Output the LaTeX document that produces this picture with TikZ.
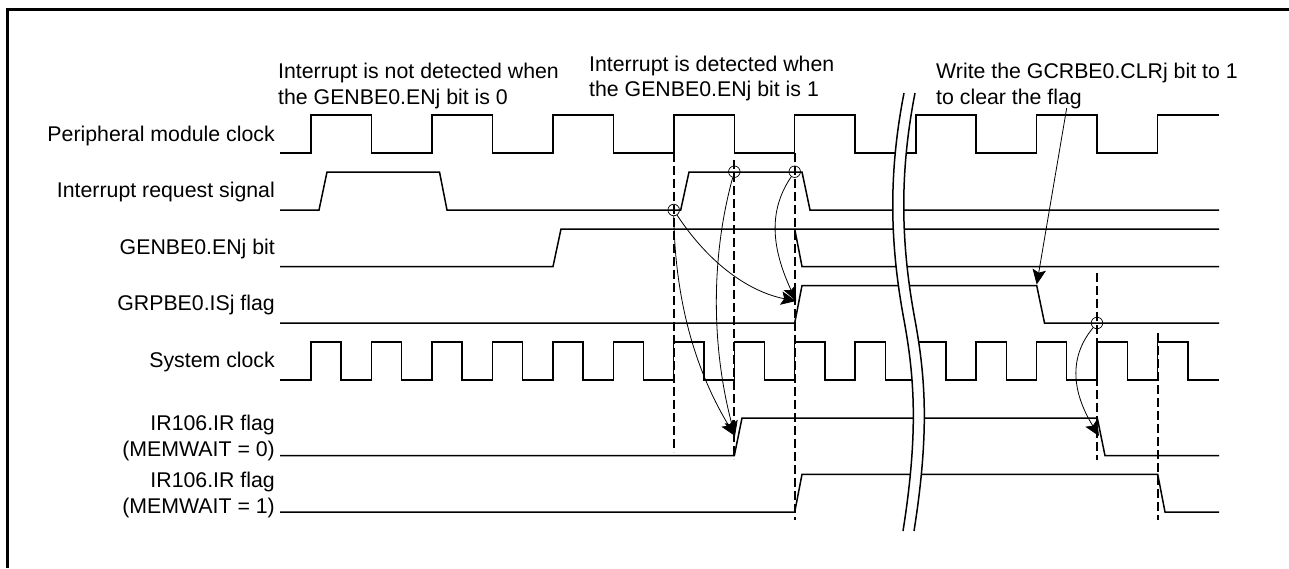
\documentclass[tikz,border=0pt]{standalone}
\usepackage{fontspec}
\setmainfont{Liberation Sans}
\usetikzlibrary{arrows.meta}
\tikzset{
  x=1pt,y=-1pt,
  wave/.style={line width=1.5pt,line join=miter},
  guide/.style={line width=2pt,dash pattern=on 9pt off 4pt},
  breakline/.style={line width=1.5pt},
  lbl/.style={font=\fontsize{21.3}{25.5}\selectfont,inner sep=0pt,align=right,anchor=base east},
  note/.style={font=\fontsize{21.3}{25.5}\selectfont,inner sep=0pt,align=left,anchor=base west},
  dot/.style={circle,draw,line width=0.7pt,minimum size=11.5pt,inner sep=0pt},
  cause/.style={line width=0.8pt,-{Stealth[length=15pt,width=13.5pt,inset=3pt]}},
}
\begin{document}
\begin{tikzpicture}
\useasboundingbox (0,0) rectangle (1289,568);
\draw[line width=3pt] (7.5,568) -- (7.5,9.5) -- (1289,9.5);

% labels
\node[lbl] (l1) at (275,141) {Peripheral module clock};
\node[lbl] (l2) at (275,197) {Interrupt request signal};
\node[lbl] (l3) at (275,254) {GENBE0.ENj bit};
\node[lbl] (l4) at (275,310) {GRPBE0.ISj flag};
\node[lbl] (l5) at (275,367) {System clock};
\node[lbl] (l6) at (275,456) {IR106.IR flag\\(MEMWAIT = 0)};
\node[lbl] (l7) at (275,513) {IR106.IR flag\\(MEMWAIT = 1)};
\node[note] (n1) at (278,104) {Interrupt is not detected when\\the GENBE0.ENj bit is 0};
\node[note] (n2) at (589,96.5) {Interrupt is detected when\\the GENBE0.ENj bit is 1};
\node[note] (n3) at (936,104) {Write the GCRBE0.CLRj bit to 1\\to clear the flag};

% guides
\draw[guide] (673.7,153) -- (673.7,452);
\draw[guide] (734.3,160) -- (734.3,459);
\draw[guide] (794.7,153) -- (794.7,520);
\draw[guide] (1097,273) -- (1097,460);
\draw[guide] (1157.7,333) -- (1157.7,520);

% peripheral clock
\draw[wave] (280,153) -- (311,153) -- (311,115) -- (371.5,115) -- (371.5,153) -- (432,153) -- (432,115) -- (492.5,115) -- (492.5,153) -- (553,153) -- (553,115) -- (613.5,115) -- (613.5,153) -- (674,153) -- (674,115) -- (734.3,115) -- (734.3,153) -- (794.7,153) -- (794.7,115) -- (855,115) -- (855,153) -- (916,153) -- (916,115) -- (976,115) -- (976,153) -- (1036.7,153) -- (1036.7,115) -- (1097,115) -- (1097,153) -- (1157.7,153) -- (1157.7,115) -- (1219,115);
% interrupt request
\draw[wave] (280,210) -- (319,210) -- (327,172) -- (439.5,172) -- (447,210) -- (680.7,210) -- (689,172) -- (802,172) -- (810,210) -- (1219,210);
% GENBE0.ENj
\draw[wave] (280,266.5) -- (553,266.5) -- (561,229) -- (1219,229);
\draw[wave] (794.7,229) -- (802,266.5) -- (1219,266.5);
% GRPBE0.ISj
\draw[wave] (280,323) -- (794.7,323) -- (802,285.5) -- (1036.7,285.5) -- (1044.5,323) -- (1219,323);
% system clock
\draw[wave] (280,380) -- (311,380) -- (311,342) -- (341,342) -- (341,380) -- (371.5,380) -- (371.5,342) -- (401.5,342) -- (401.5,380) -- (432,380) -- (432,342) -- (462,342) -- (462,380) -- (492.5,380) -- (492.5,342) -- (522.5,342) -- (522.5,380) -- (553,380) -- (553,342) -- (583,342) -- (583,380) -- (613.5,380) -- (613.5,342) -- (643.3,342) -- (643.3,380) -- (673.7,380) -- (673.7,342) -- (704,342) -- (704,380) -- (734.3,380) -- (734.3,342) -- (764.5,342) -- (764.5,380) -- (794.7,380) -- (794.7,342) -- (825,342) -- (825,380) -- (855,380) -- (855,342) -- (885.6,342) -- (885.6,380) -- (916,380) -- (916,342) -- (946,342) -- (946,380) -- (976,380) -- (976,342) -- (1006.5,342) -- (1006.5,380) -- (1036.7,380) -- (1036.7,342) -- (1066.7,342) -- (1066.7,380) -- (1097,380) -- (1097,342) -- (1127.7,342) -- (1127.7,380) -- (1157.7,380) -- (1157.7,342) -- (1188,342) -- (1188,380) -- (1219,380);
% IR flags
\draw[wave] (280,455.7) -- (734.3,455.7) -- (742,418) -- (1097.3,418) -- (1105,455.7) -- (1219,455.7);
\draw[wave] (280,512) -- (794.7,512) -- (802,474.3) -- (1157.7,474.3) -- (1165,512) -- (1219,512);

% break
\fill[white] (904,93) .. controls (889,170) and (889,240) .. (904,320) .. controls (914,375) and (919,430) .. (903,531)
  -- (914,531) .. controls (930,430) and (925,375) .. (915,320) .. controls (900,240) and (900,170) .. (915,93) -- cycle;
\draw[breakline] (904,93) .. controls (889,170) and (889,240) .. (904,320) .. controls (914,375) and (919,430) .. (903,531);
\draw[breakline] (915,93) .. controls (900,170) and (900,240) .. (915,320) .. controls (925,375) and (930,430) .. (914,531);

% detection points and arrows
\node[dot] (c1) at (673.7,210) {};
\node[dot] (c2) at (734.3,171.7) {};
\node[dot] (c3) at (794.7,171.7) {};
\node[dot] (c4) at (1097,323) {};
\coordinate (t1) at (796,301);
\coordinate (t2) at (735,436);
\coordinate (t3) at (1036.7,284.5);
\coordinate (t4) at (1099,436);
\coordinate (s3) at (1066.7,108);
\draw[cause] (c1) .. controls (710,265) and (750,292) .. (t1);
\draw[cause] (c3) .. controls (765,215) and (775,255) .. (t1);
\draw[cause] (c1) .. controls (675,300) and (695,370) .. (t2);
\draw[cause] (c2) .. controls (710,260) and (712,350) .. (t2);
\draw[cause] (s3) -- (t3);
\draw[cause] (c4) .. controls (1062,365) and (1080,405) .. (t4);
\end{tikzpicture}
\end{document}
